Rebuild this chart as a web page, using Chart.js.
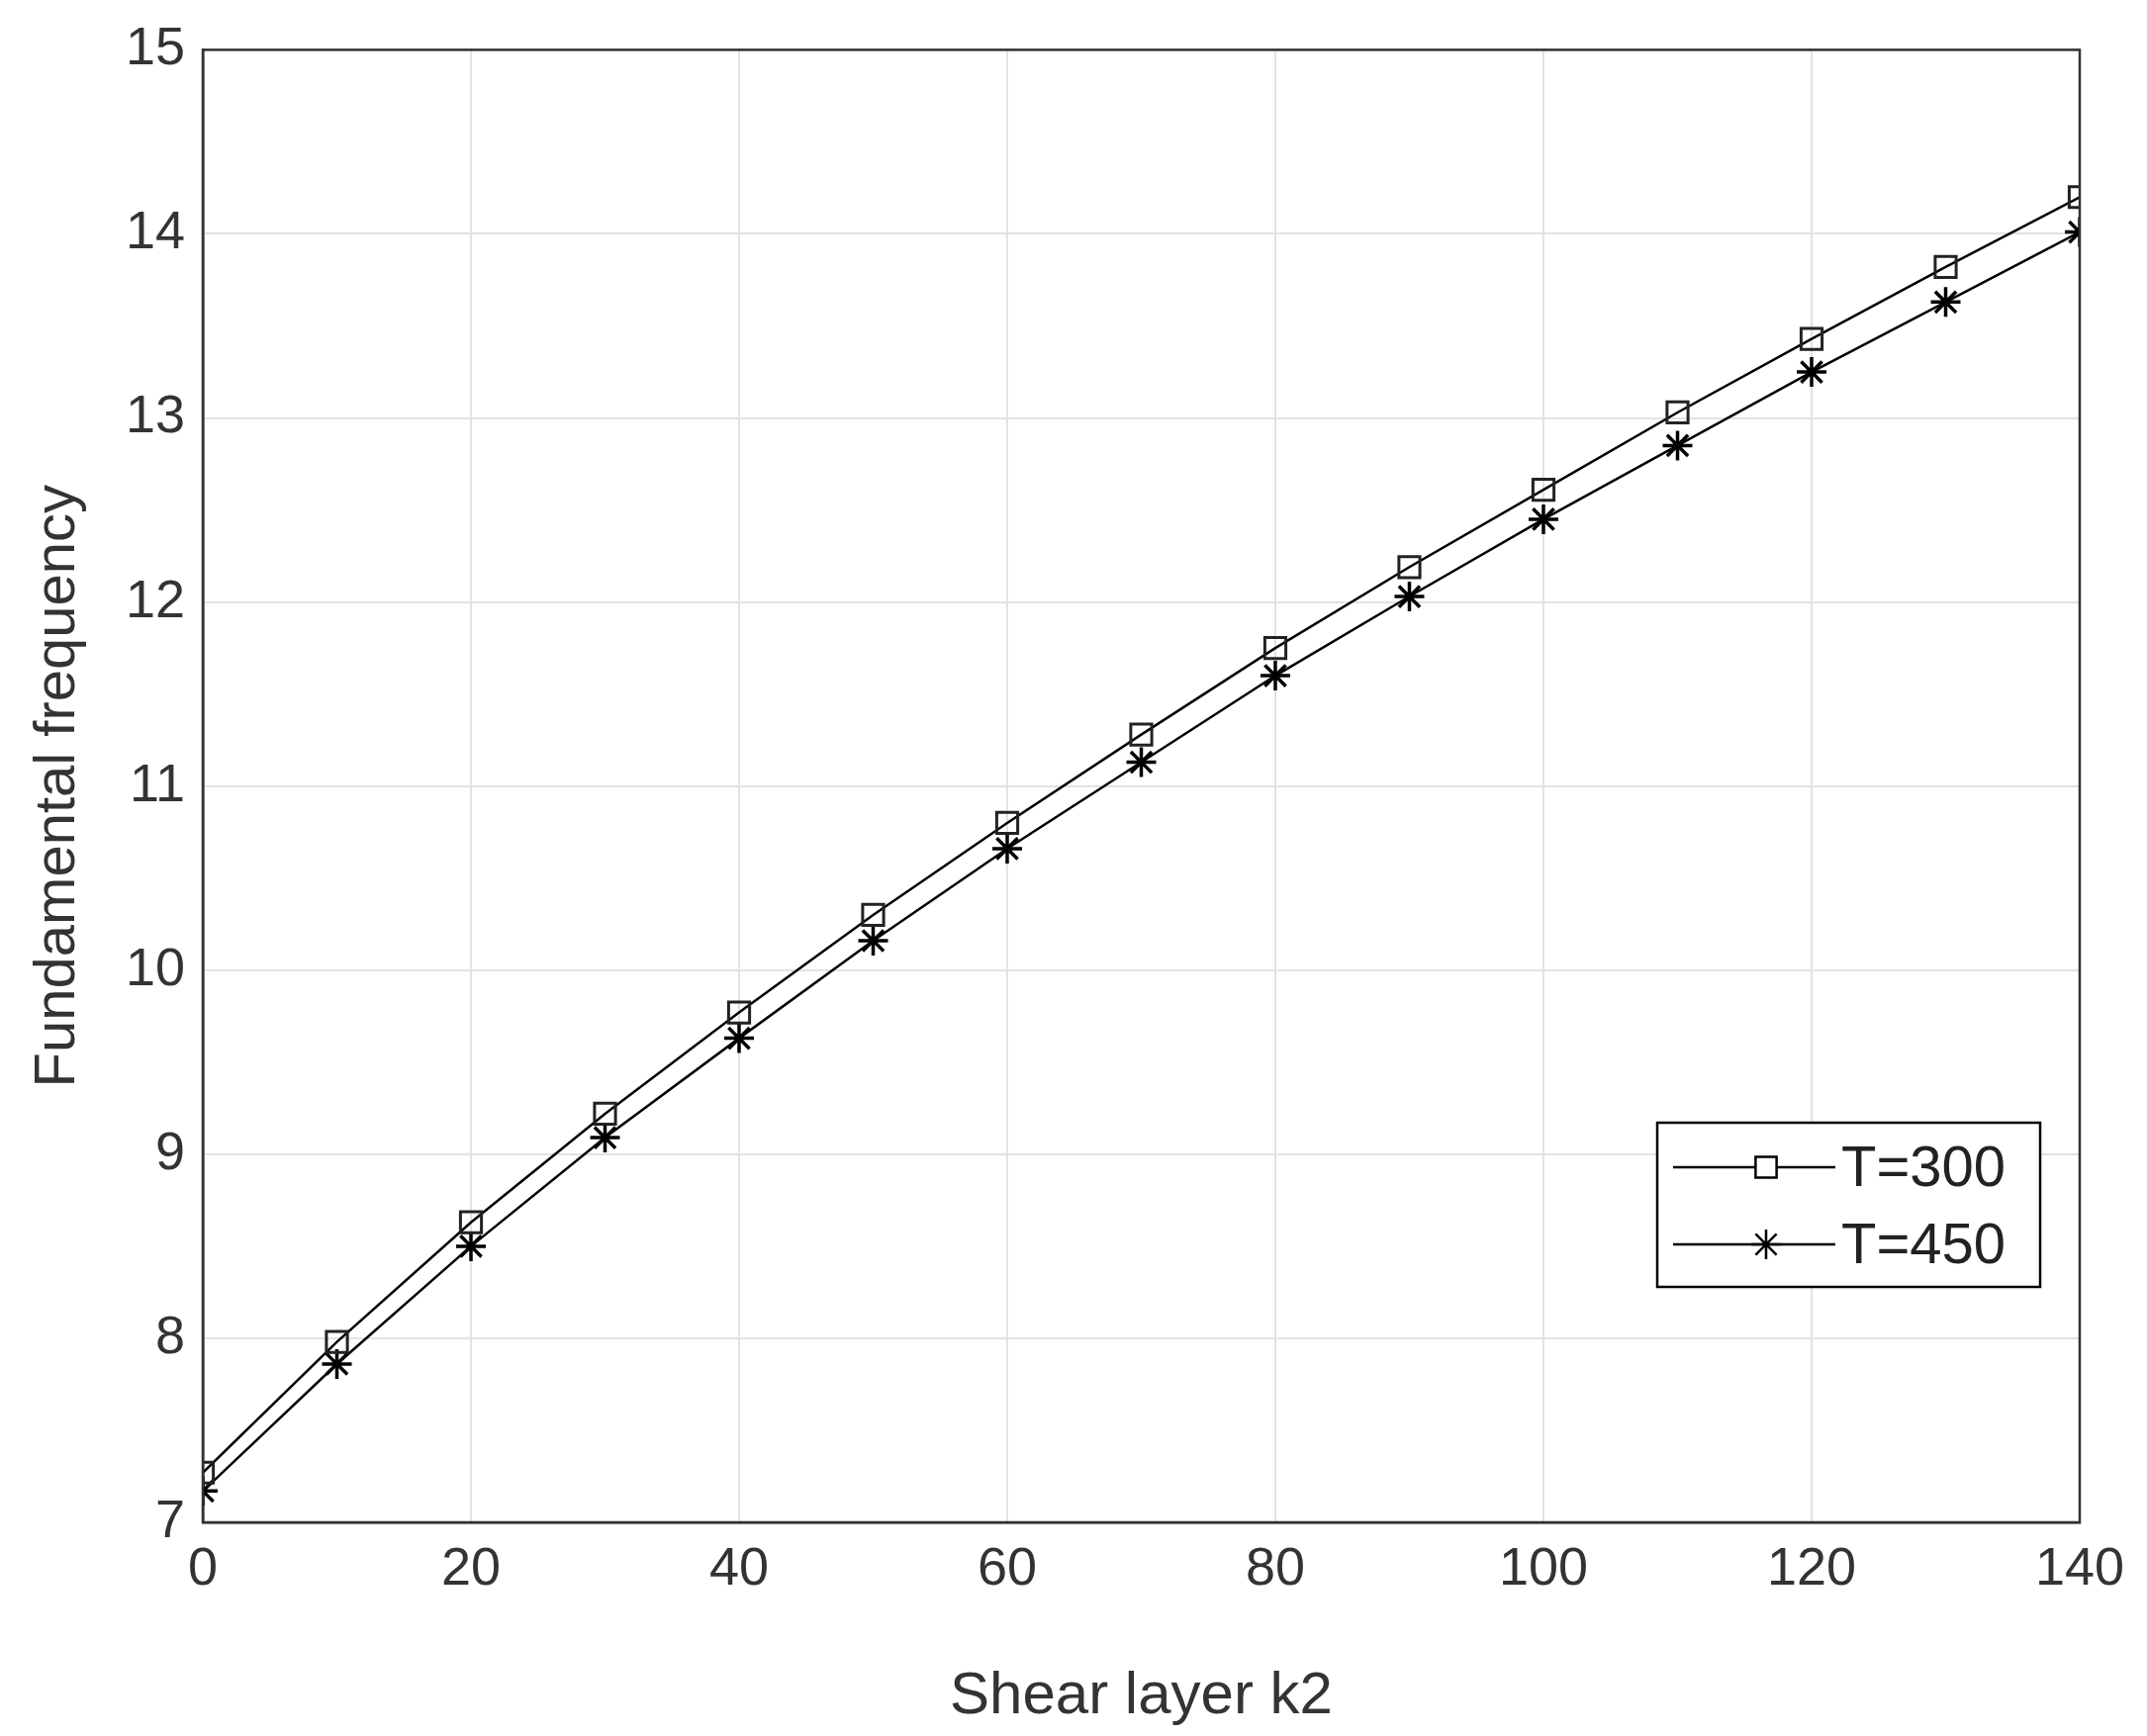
<!DOCTYPE html>
<html><head><meta charset="utf-8">
<script src="https://cdn.jsdelivr.net/npm/chart.js@4"></script>
<style>html,body{margin:0;padding:0;background:#fff}#c{display:block}</style>
</head><body>
<div style="width:2170px;height:1755px"><canvas id="c"></canvas></div>
<script>
const shearK2 = [0,10,20,30,40,50,60,70,80,90,100,110,120,130,140];
const freqT300 = [7.27,7.98,8.63,9.22,9.77,10.30,10.80,11.28,11.75,12.19,12.61,13.03,13.43,13.82,14.20];
const freqT450 = [7.17,7.86,8.50,9.09,9.63,10.16,10.66,11.13,11.60,12.03,12.45,12.85,13.25,13.63,14.01];
const seriesLabels = ['T=300','T=450'];
const xTitle = 'Shear layer k2';
const yTitle = 'Fundamental frequency';

const legendPlugin = {
  id:'boxLegend',
  afterDraw(chart){
    const ctx=chart.ctx, a=chart.chartArea;
    const w=387,h=166,x=a.right-427,y=1135;
    ctx.save();
    ctx.fillStyle='#fff';ctx.fillRect(x,y,w,h);
    ctx.strokeStyle='#000';ctx.lineWidth=2.5;ctx.strokeRect(x,y,w,h);
    chart.data.datasets.forEach((ds,i)=>{
      const cy=y+45+i*78;
      ctx.strokeStyle='#000';ctx.lineWidth=2.5;
      ctx.beginPath();ctx.moveTo(x+16,cy);ctx.lineTo(x+180,cy);ctx.stroke();
      ctx.fillStyle='#fff';
      Chart.helpers.drawPoint(ctx,{pointStyle:ds.pointStyle,radius:15,borderWidth:3},x+110,cy);
      ctx.fillStyle='#222';ctx.font='58px "Liberation Sans", Arial';ctx.textBaseline='middle';
      ctx.fillText(ds.label,x+186,cy+3);
    });
    ctx.restore();
  }
};

new Chart(document.getElementById('c'),{
  type:'line',
  data:{datasets:[
    {label:seriesLabels[0],data:shearK2.map((x,i)=>({x,y:freqT300[i]})),borderColor:'#000',backgroundColor:'#fff',borderWidth:2.5,pointStyle:'rect',pointRadius:15,pointBorderWidth:3,pointBackgroundColor:'rgba(255,255,255,0)',pointBorderColor:'#222'},
    {label:seriesLabels[1],data:shearK2.map((x,i)=>({x,y:freqT450[i]})),borderColor:'#000',backgroundColor:'#000',borderWidth:2.5,pointStyle:'star',pointRadius:15,pointBorderWidth:3.5,pointBorderColor:'#000'}
  ]},
  options:{
    responsive:true,maintainAspectRatio:false,animation:false,
    layout:{padding:{top:39,right:68,left:20,bottom:0}},
    plugins:{legend:{display:false},tooltip:{enabled:false}},
    scales:{
      x:{type:'linear',min:0,max:140,
        ticks:{stepSize:20,color:'#333',font:{size:54,family:'"Liberation Sans", Arial'},padding:16},
        grid:{color:'#e2e2e2',lineWidth:2,drawTicks:false},
        border:{color:'#333',width:2.5},
        title:{display:true,text:xTitle,color:'#333',font:{size:60,family:'"Liberation Sans", Arial'},padding:{top:6}},
        afterFit(s){s.height=216;}
      },
      y:{min:7,max:15,
        ticks:{stepSize:1,color:'#333',font:{size:54,family:'"Liberation Sans", Arial'},padding:18},
        grid:{color:'#e2e2e2',lineWidth:2,drawTicks:false},
        border:{color:'#333',width:2.5},
        title:{display:true,text:yTitle,color:'#333',font:{size:58,family:'"Liberation Sans", Arial'},padding:{bottom:4}},
        afterFit(s){s.width=185;}
      }
    }
  },
  plugins:[legendPlugin,{
    id:'frame',afterDraw(chart){const c=chart.ctx,a=chart.chartArea;c.save();c.strokeStyle='#333';c.lineWidth=2.5;c.strokeRect(a.left,a.top,a.right-a.left,a.bottom-a.top);c.restore();}
  }]
});
</script></body></html>
